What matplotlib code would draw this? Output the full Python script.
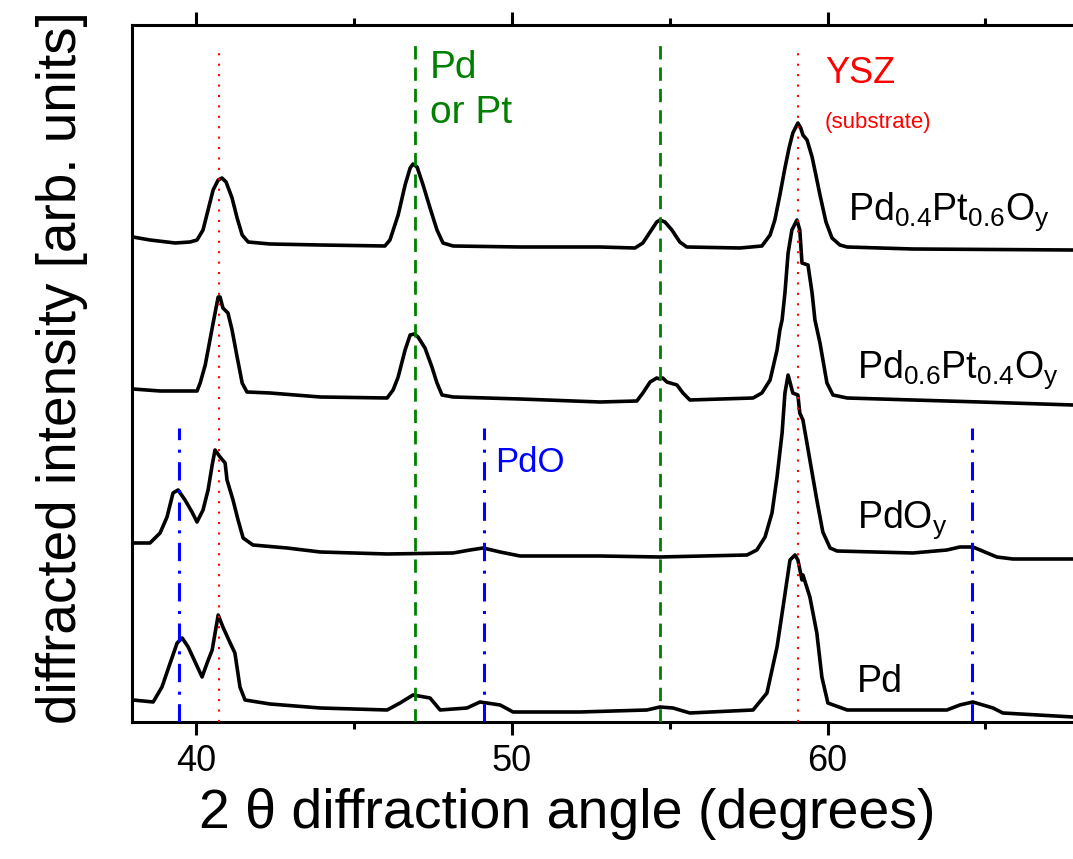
import matplotlib
matplotlib.use("Agg")
import matplotlib.pyplot as plt

plt.rcParams['font.family'] = ['Liberation Sans', 'DejaVu Sans']
plt.rcParams['mathtext.fontset'] = 'custom'
plt.rcParams['mathtext.rm'] = 'Liberation Sans'
plt.rcParams['mathtext.it'] = 'Liberation Sans:italic'

# --- data (2 theta in degrees, stacked intensity in arb. units)
pdpt46_x = [38.00, 38.54, 39.34, 39.81, 40.03, 40.22, 40.38, 40.54, 40.70, 40.82,
            40.95, 41.14, 41.30, 41.46, 41.65, 42.34, 43.93, 45.98, 46.14, 46.40,
            46.62, 46.78, 46.87, 47.00, 47.19, 47.41, 47.63, 47.82, 48.14, 50.26,
            52.79, 53.90, 54.15, 54.38, 54.59, 54.69, 54.85, 55.07, 55.32, 55.54,
            57.23, 57.92, 58.18, 58.33, 58.49, 58.65, 58.78, 58.90, 59.06, 59.15,
            59.22, 59.35, 59.51, 59.63, 59.76, 59.95, 60.14, 60.39, 60.62, 62.70,
            67.77]
pdpt46_y = [48.5, 48.2, 47.9, 48.0, 48.2, 49.2, 51.2, 53.2, 54.2, 54.4,
            54.0, 52.4, 50.4, 48.7, 48.0, 47.8, 47.7, 47.6, 48.2, 50.7,
            53.7, 55.4, 55.8, 55.5, 53.7, 51.4, 49.2, 47.9, 47.6, 47.5,
            47.5, 47.4, 47.9, 49.0, 50.0, 50.2, 50.0, 49.2, 48.0, 47.5,
            47.4, 47.6, 48.7, 50.2, 52.7, 55.4, 57.4, 58.9, 59.9, 59.4,
            58.7, 58.2, 56.5, 54.7, 52.7, 50.0, 48.4, 47.7, 47.5, 47.3,
            47.2]

pdpt64_x = [38.00, 38.86, 40.03, 40.13, 40.29, 40.38, 40.54, 40.70, 40.76, 40.85,
            41.01, 41.14, 41.30, 41.46, 41.61, 42.34, 43.93, 46.05, 46.24, 46.40,
            46.62, 46.78, 46.91, 47.03, 47.25, 47.47, 47.63, 47.79, 48.14, 50.26,
            52.79, 53.96, 54.15, 54.38, 54.59, 54.69, 54.78, 54.91, 55.23, 55.42,
            55.64, 57.64, 57.92, 58.18, 58.40, 58.49, 58.56, 58.65, 58.75, 58.87,
            59.03, 59.12, 59.19, 59.38, 59.51, 59.60, 59.76, 59.98, 60.17, 60.62,
            62.70, 64.83, 67.77]
pdpt64_y = [33.3, 33.1, 33.1, 33.9, 35.7, 37.2, 39.9, 42.5, 42.5, 41.4,
            40.9, 39.2, 36.5, 33.9, 33.0, 32.9, 32.5, 32.4, 33.2, 34.5,
            37.2, 38.7, 38.8, 38.5, 37.4, 35.5, 33.9, 32.7, 32.5, 32.3,
            32.0, 32.1, 32.9, 34.0, 34.4, 34.3, 34.4, 34.0, 33.7, 32.9,
            32.2, 32.4, 32.9, 34.2, 37.2, 39.2, 40.2, 42.9, 46.9, 49.2,
            50.2, 49.2, 45.9, 45.7, 42.9, 40.2, 37.9, 33.9, 32.7, 32.4,
            32.2, 32.0, 31.7]

pdo_x = [38.00, 38.54, 38.86, 39.08, 39.27, 39.43, 39.65, 39.87, 40.03, 40.22,
         40.38, 40.51, 40.60, 40.76, 40.92, 40.98, 41.17, 41.33, 41.49, 41.80,
         42.88, 43.93, 46.05, 48.14, 48.68, 49.09, 49.63, 50.26, 52.79, 54.69,
         57.45, 57.76, 58.02, 58.24, 58.40, 58.56, 58.65, 58.75, 58.90, 59.06,
         59.12, 59.22, 59.44, 59.66, 59.85, 60.08, 60.30, 62.70, 63.78, 64.19,
         64.60, 64.83, 65.36, 65.87, 67.77]
pdo_y = [17.9, 17.9, 18.9, 20.5, 22.9, 23.2, 22.2, 21.0, 20.0, 21.2,
         23.2, 25.7, 27.2, 26.5, 25.9, 24.2, 22.2, 20.2, 18.4, 17.7,
         17.4, 17.0, 16.8, 16.9, 17.2, 17.4, 17.0, 16.6, 16.6, 16.5,
         16.7, 17.2, 18.5, 20.9, 24.5, 28.9, 32.9, 34.7, 32.9, 32.7,
         30.9, 30.2, 26.2, 22.2, 19.0, 17.4, 17.1, 16.9, 17.2, 17.5,
         17.5, 17.2, 16.5, 16.3, 16.3]

pd_x = [38.00, 38.64, 38.92, 39.18, 39.40, 39.56, 39.75, 39.97, 40.19, 40.35,
        40.51, 40.70, 40.85, 41.08, 41.23, 41.39, 41.55, 42.34, 43.93, 46.05,
        46.46, 46.87, 47.41, 47.73, 48.58, 48.99, 49.63, 50.04, 52.16, 54.28,
        54.69, 55.10, 55.64, 57.64, 58.08, 58.40, 58.59, 58.81, 58.97, 59.06,
        59.19, 59.22, 59.44, 59.66, 59.82, 60.01, 60.62, 63.78, 64.19, 64.60,
        65.24, 65.55, 67.77]
pd_y = [2.2, 2.0, 3.5, 5.9, 7.9, 8.4, 7.5, 6.0, 4.5, 5.9,
        7.2, 10.7, 9.5, 7.9, 6.9, 3.5, 2.2, 1.8, 1.4, 1.2,
        1.9, 2.7, 2.4, 1.2, 1.4, 2.0, 1.7, 1.0, 1.0, 1.2,
        1.5, 1.4, 0.9, 1.2, 2.9, 7.5, 11.5, 16.2, 16.7, 16.2,
        14.2, 14.7, 12.5, 8.9, 4.5, 1.9, 1.2, 1.2, 1.7, 2.0,
        1.4, 0.9, 0.5]

ysz_pos = [40.73, 59.06]
pdpt_pos = [46.93, 54.69]
pdo_pos = [39.46, 49.12, 64.57]
ysz_top, pdpt_top, pdo_top = 67.7, 68.0, 29.4

fig = plt.figure(figsize=(10.73, 8.59), dpi=100)
ax = fig.add_axes([0.1230, 0.1595, 0.8975, 0.8114])

for xs, ys in [(pdpt46_x, pdpt46_y), (pdpt64_x, pdpt64_y), (pdo_x, pdo_y), (pd_x, pd_y)]:
    ax.plot(xs, ys, color='black', lw=2.6, solid_joinstyle='round', zorder=2)

# reference positions
ax.vlines(ysz_pos, 0, ysz_top, colors='red', lw=1.5, linestyles=(0, (1, 4)), zorder=3)
ax.vlines(pdpt_pos, 0, pdpt_top, colors='#008000', lw=2.0, linestyles=(0, (4.8, 2.9)), zorder=3)
ax.vlines(pdo_pos, 0, pdo_top, colors='blue', lw=2.2, linestyles=(0, (6, 3.1, 1, 3.1)), zorder=3)

ax.text(47.41, 64.4, 'Pd', color='#008000', fontsize=28)
ax.text(47.41, 59.9, 'or Pt', color='#008000', fontsize=28)
ax.text(59.92, 63.9, 'YSZ', color='red', fontsize=26)
ax.text(59.92, 59.4, '(substrate)', color='red', fontsize=16)
ax.text(49.47, 25.0, 'PdO', color='blue', fontsize=25)

ax.text(60.65, 50.2, r'Pd$_{\mathrm{0.4}}$Pt$_{\mathrm{0.6}}$O$_{\mathrm{y}}$', fontsize=27)
ax.text(60.93, 34.4, r'Pd$_{\mathrm{0.6}}$Pt$_{\mathrm{0.4}}$O$_{\mathrm{y}}$', fontsize=27)
ax.text(60.93, 19.4, r'PdO$_{\mathrm{y}}$', fontsize=27)
ax.text(60.93, 3.0, 'Pd', fontsize=27)

ax.set_xlim(37.97, 68.47)
ax.set_ylim(0, 69.7)
ax.set_xticks([40, 50, 60])
ax.set_xticks([45, 55, 65], minor=True)
ax.set_yticks([])
ax.tick_params(axis='x', which='both', direction='out', top=True, width=2.2)
ax.tick_params(axis='x', which='major', length=9.5, pad=6, labelsize=26)
ax.tick_params(axis='x', which='minor', length=5)
for side in ['left', 'bottom', 'top']:
    ax.spines[side].set_linewidth(2.2)
ax.spines['right'].set_visible(False)

ax.set_xlabel('2 θ diffraction angle (degrees)', fontsize=40)
ax.set_ylabel('diffracted intensity [arb. units]', fontsize=39.5)
ax.xaxis.set_label_coords(0.452, -0.094)
ax.yaxis.set_label_coords(-0.046, 0.509)

fig.savefig('out.png', dpi=100)
